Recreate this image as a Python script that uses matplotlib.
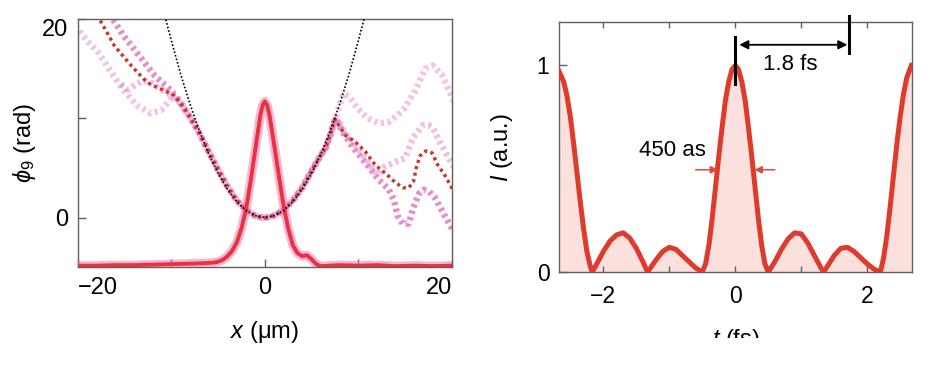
import numpy as np
import matplotlib.pyplot as plt
from matplotlib.transforms import Bbox, TransformedBbox

plt.rcParams['font.family'] = ['Liberation Sans', 'DejaVu Sans']
plt.rcParams['mathtext.fontset'] = 'custom'
plt.rcParams['mathtext.rm'] = 'Liberation Sans'
plt.rcParams['mathtext.it'] = 'Liberation Sans:italic'

# ---- left panel: beam profile (scaled) and phase phi_9 (rad) vs x (um) ----
x_prof = [-20, -18, -16, -14, -12, -10, -8, -6.5, -5.5, -5, -4.5, -4, -3.5, -3, -2.5, -2,
          -1.5, -1, -0.5, -0.25, 0, 0.25, 0.5, 1, 1.5, 2, 2.5, 3, 3.5, 4, 4.5, 5, 5.5, 6,
          7, 8, 10, 12, 14, 16, 18, 20]
y_prof = [-4.85, -4.85, -4.8, -4.8, -4.75, -4.7, -4.65, -4.6, -4.55, -4.45, -4.25, -3.9,
          -3.35, -2.5, -1.1, 0.9, 3.8, 7.0, 10.2, 11.3, 11.7, 11.3, 10.3, 7.3, 4.2, 1.2,
          -1.1, -2.8, -3.6, -3.9, -3.8, -4.2, -4.7, -4.9, -4.85, -4.8, -4.85, -4.8, -4.9,
          -4.85, -4.9, -4.85]

# parabolic reference phase (black dotted)
x_par = [-10.7, -10, -9, -8, -7, -6, -5, -4, -3, -2, -1, 0, 1, 2, 3, 4, 5, 6, 7, 8, 9, 10, 10.7]
y_par = [20.3, 17.8, 14.4, 11.4, 8.7, 6.4, 4.45, 2.85, 1.6, 0.7, 0.18, 0.0, 0.18, 0.7, 1.6,
         2.85, 4.45, 6.4, 8.7, 11.4, 14.4, 17.8, 20.3]

# shared central part of the measured phases
x_core = [-9, -8, -7, -6, -5, -4, -3, -2, -1, 0, 1, 2, 3, 4, 5, 6, 6.5, 7, 7.5]
y_core = [11.5, 10.1, 8.5, 6.6, 4.8, 3.1, 1.7, 0.75, 0.15, -0.05, 0.2, 0.75, 1.7, 3.0, 4.7,
          6.3, 7.0, 8.3, 9.9]

# mean phase (red dotted)
x_red_l = [-18.0, -17.7, -16.1, -14.3, -12.6, -10.8, -9.7]
y_red_l = [20.4, 20.0, 17.3, 15.3, 13.6, 12.8, 12.3]
x_red_r = [8.6, 9.7, 10.8, 11.8, 13.1, 14.0, 14.8, 15.4, 15.9, 16.2, 16.6, 17.2, 17.9,
           18.5, 19.3, 20.0, 20.3]
y_red_r = [8.3, 7.6, 6.6, 5.3, 4.3, 3.5, 3.0, 3.0, 3.6, 5.0, 6.2, 6.7, 6.5, 5.3, 4.2, 3.0, 2.6]

# single-shot phases (pink)
x_pa_l = [-16.6, -16.5, -15.1, -13.2, -11.8, -10.4, -9.5]
y_pa_l = [20.5, 20.3, 18.3, 16.0, 14.3, 13.1, 12.2]
x_pa_r = [7.8, 8.4, 9.4, 10.8, 12.2, 13.2, 13.8, 14.2, 14.8, 15.4, 15.9, 16.5, 17.0, 17.6,
          18.2, 19.0, 19.9, 20.3]
y_pa_r = [9.6, 8.5, 7.1, 5.5, 3.8, 2.9, 1.8, 0.2, -0.7, -0.6, 1.0, 2.4, 2.8, 2.6, 2.0, 0.6,
          -0.9, -1.5]

x_pb_l = [-20.3, -19.0, -17.8, -16.9, -15.1, -13.7, -12.2, -11.1, -10.0, -9.5]
y_pb_l = [19.3, 17.8, 16.6, 15.3, 12.8, 11.3, 10.5, 10.8, 12.0, 11.9]
x_pb_r = [8.0, 8.4, 9.0, 10.0, 11.0, 12.2, 13.2, 14.2, 15.0, 16.1, 17.2, 18.0, 19.0, 20.0, 20.3]
y_pb_r = [11.3, 12.5, 12.2, 10.9, 10.0, 9.5, 9.6, 10.3, 11.1, 12.8, 15.0, 15.3, 14.3, 12.2, 11.5]

x_pc_l = [-15.4, -14.6, -13.8, -13.0, -12.2, -11.3, -10.3, -9.5]
y_pc_l = [13.4, 12.9, 13.4, 13.8, 13.6, 13.0, 12.5, 11.9]
x_pc_r = [7.8, 8.5, 9.5, 10.5, 11.3, 12.0, 12.8, 13.7, 15.0, 15.9, 16.9, 17.5, 18.0, 18.8,
          19.6, 20.3]
y_pc_r = [9.8, 8.7, 7.5, 6.3, 5.3, 4.3, 5.1, 5.5, 6.0, 8.1, 9.3, 9.3, 9.0, 7.5, 6.1, 5.0]

# ---- right panel: intensity I (a.u.) vs t (fs) ----
t_int = [-2.67, -2.6, -2.55, -2.5, -2.45, -2.4, -2.35, -2.3, -2.25, -2.2, -2.17, -2.1, -2.0,
         -1.9, -1.8, -1.7, -1.6, -1.5, -1.4, -1.33, -1.2, -1.1, -1.0, -0.9, -0.8, -0.7, -0.6,
         -0.5, -0.45, -0.4, -0.35, -0.3, -0.25, -0.2, -0.15, -0.1, -0.05, 0.0, 0.05, 0.1,
         0.15, 0.2, 0.25, 0.3, 0.35, 0.4, 0.45, 0.5, 0.6, 0.7, 0.8, 0.9, 1.0, 1.1, 1.2,
         1.3, 1.34, 1.4, 1.5, 1.6, 1.7, 1.8, 1.9, 2.0, 2.1, 2.2, 2.25, 2.3, 2.35, 2.4, 2.45,
         2.5, 2.55, 2.6, 2.67]
I_int = [0.97, 0.92, 0.85, 0.75, 0.62, 0.48, 0.34, 0.21, 0.10, 0.03, 0.0, 0.04, 0.10,
         0.15, 0.18, 0.19, 0.165, 0.115, 0.05, 0.0, 0.06, 0.10, 0.12, 0.11, 0.08, 0.05, 0.02,
         0.0, 0.04, 0.13, 0.26, 0.41, 0.56, 0.70, 0.83, 0.92, 0.98, 1.0, 0.98, 0.92,
         0.83, 0.70, 0.56, 0.41, 0.26, 0.13, 0.04, 0.0, 0.05, 0.11, 0.16, 0.19, 0.185, 0.14,
         0.08, 0.02, 0.0, 0.03, 0.08, 0.115, 0.12, 0.10, 0.07, 0.04, 0.015, 0.0, 0.07, 0.18,
         0.32, 0.47, 0.62, 0.75, 0.86, 0.94, 1.0]

PINK = '#e070c0'
RED = '#dd3b2c'
SPINE = '#606060'

fig = plt.figure(figsize=(9.51, 3.8), dpi=100)
ax1 = fig.add_axes([0.082, 0.297, 0.393, 0.653])
ax2 = fig.add_axes([0.588, 0.284, 0.371, 0.658])

# left panel
pink_lines = [(x_pb_l, y_pb_r, x_pb_r, y_pb_l, 0.42),
              (x_pc_l, y_pc_r, x_pc_r, y_pc_l, 0.45),
              (x_pa_l, y_pa_r, x_pa_r, y_pa_l, 0.8)]
for xl, yr, xr, yl, a in pink_lines:
    xx = list(xl) + x_core + list(xr)
    yy = list(yl) + y_core + list(yr)
    ax1.plot(xx, yy, color=PINK, alpha=a, lw=4.6, dashes=(0.5, 0.55),
             solid_capstyle='butt', dash_capstyle='butt', zorder=2)

ax1.plot(x_red_l + x_core + x_red_r, y_red_l + y_core + y_red_r, color='#c8382a',
         lw=2.5, dashes=(0.9, 1.0), zorder=3)
ax1.plot(x_prof, y_prof, color='#f07ab8', lw=6.5, alpha=0.55, zorder=4,
         solid_joinstyle='round')
ax1.plot(x_prof, y_prof, color='#e8323c', lw=2.8, zorder=5, solid_joinstyle='round')
ax1.plot(x_par, y_par, color='k', lw=1.2, dashes=(1, 1.2), zorder=6)

ax1.set_xlim(-20, 20)
ax1.set_ylim(-5, 20)
ax1.set_xticks([-20, -10, 0, 10, 20])
ax1.set_xticklabels(['\u221220', '', '0', '', '20'])
ax1.set_yticks([0, 10, 20])
ax1.set_yticklabels(['0', '', '20'])
xl = ax1.get_xticklabels()
xl[0].set_ha('left')
xl[-1].set_ha('right')
ax1.get_yticklabels()[-1].set_va('top')
ax1.set_xlabel('$x$ (μm)', fontsize=17)
ax1.set_ylabel(r'$\phi_9$ (rad)', fontsize=17)
ax1.xaxis.set_label_coords(0.5, -0.21)
ax1.yaxis.set_label_coords(-0.107, 0.5)

# right panel
ax2.fill_between(t_int, I_int, 0, color='#fbe0de', lw=0, zorder=1)
ax2.plot(t_int, I_int, color=RED, lw=3.6, zorder=3, solid_joinstyle='round')
ax2.set_xlim(-2.67, 2.68)
ax2.set_ylim(0, 1.21)
ax2.set_xticks([-2, -1, 0, 1, 2])
ax2.set_xticklabels(['\u22122', '', '0', '', '2'])
ax2.set_yticks([0, 1])
ax2.set_yticklabels(['0', '1'])
ax2.set_xlabel('$t$ (fs)', fontsize=17)
ax2.set_ylabel('$I$ (a.u.)', fontsize=17)
ax2.xaxis.set_label_coords(0.5, -0.22)
ax2.yaxis.set_label_coords(-0.125, 0.5)

# period markers
ax2.plot([0, 0], [0.91, 1.14], color='k', lw=2.2, clip_on=False, zorder=5)
ax2.plot([1.73, 1.73], [1.06, 1.24], color='k', lw=2.2, clip_on=False, zorder=5)
ax2.annotate('', xy=(1.70, 1.10), xytext=(0.06, 1.10),
             arrowprops=dict(arrowstyle='<|-|>', color='k', lw=1.3, shrinkA=0, shrinkB=0,
                             mutation_scale=13))
ax2.text(0.83, 1.005, '1.8 fs', ha='center', va='center', fontsize=16)
ax2.text(-0.95, 0.59, '450 as', ha='center', va='center', fontsize=16)
for x0, x1 in [(-0.6, -0.26), (0.6, 0.29)]:
    ax2.annotate('', xy=(x1, 0.495), xytext=(x0, 0.495),
                 arrowprops=dict(arrowstyle='-|>', color='#e04a3a', lw=1.1, shrinkA=0,
                                 shrinkB=0, mutation_scale=11))

for ax in (ax1, ax2):
    for s in ax.spines.values():
        s.set_color(SPINE)
        s.set_linewidth(1.0)
    ax.tick_params(direction='in', length=6, width=1.0, color=SPINE, labelsize=17,
                   pad=7)
ax2.tick_params(axis='x', top=True, length=4, pad=9)
ax2.tick_params(labelsize=16.5)

# bottom of the t label is cut off in the original figure
lab = ax2.xaxis.label
lab.set_clip_box(TransformedBbox(Bbox([[0, 42 / 380], [1, 1]]), fig.transFigure))
lab.set_clip_on(True)

fig.savefig('out.png', dpi=100)
